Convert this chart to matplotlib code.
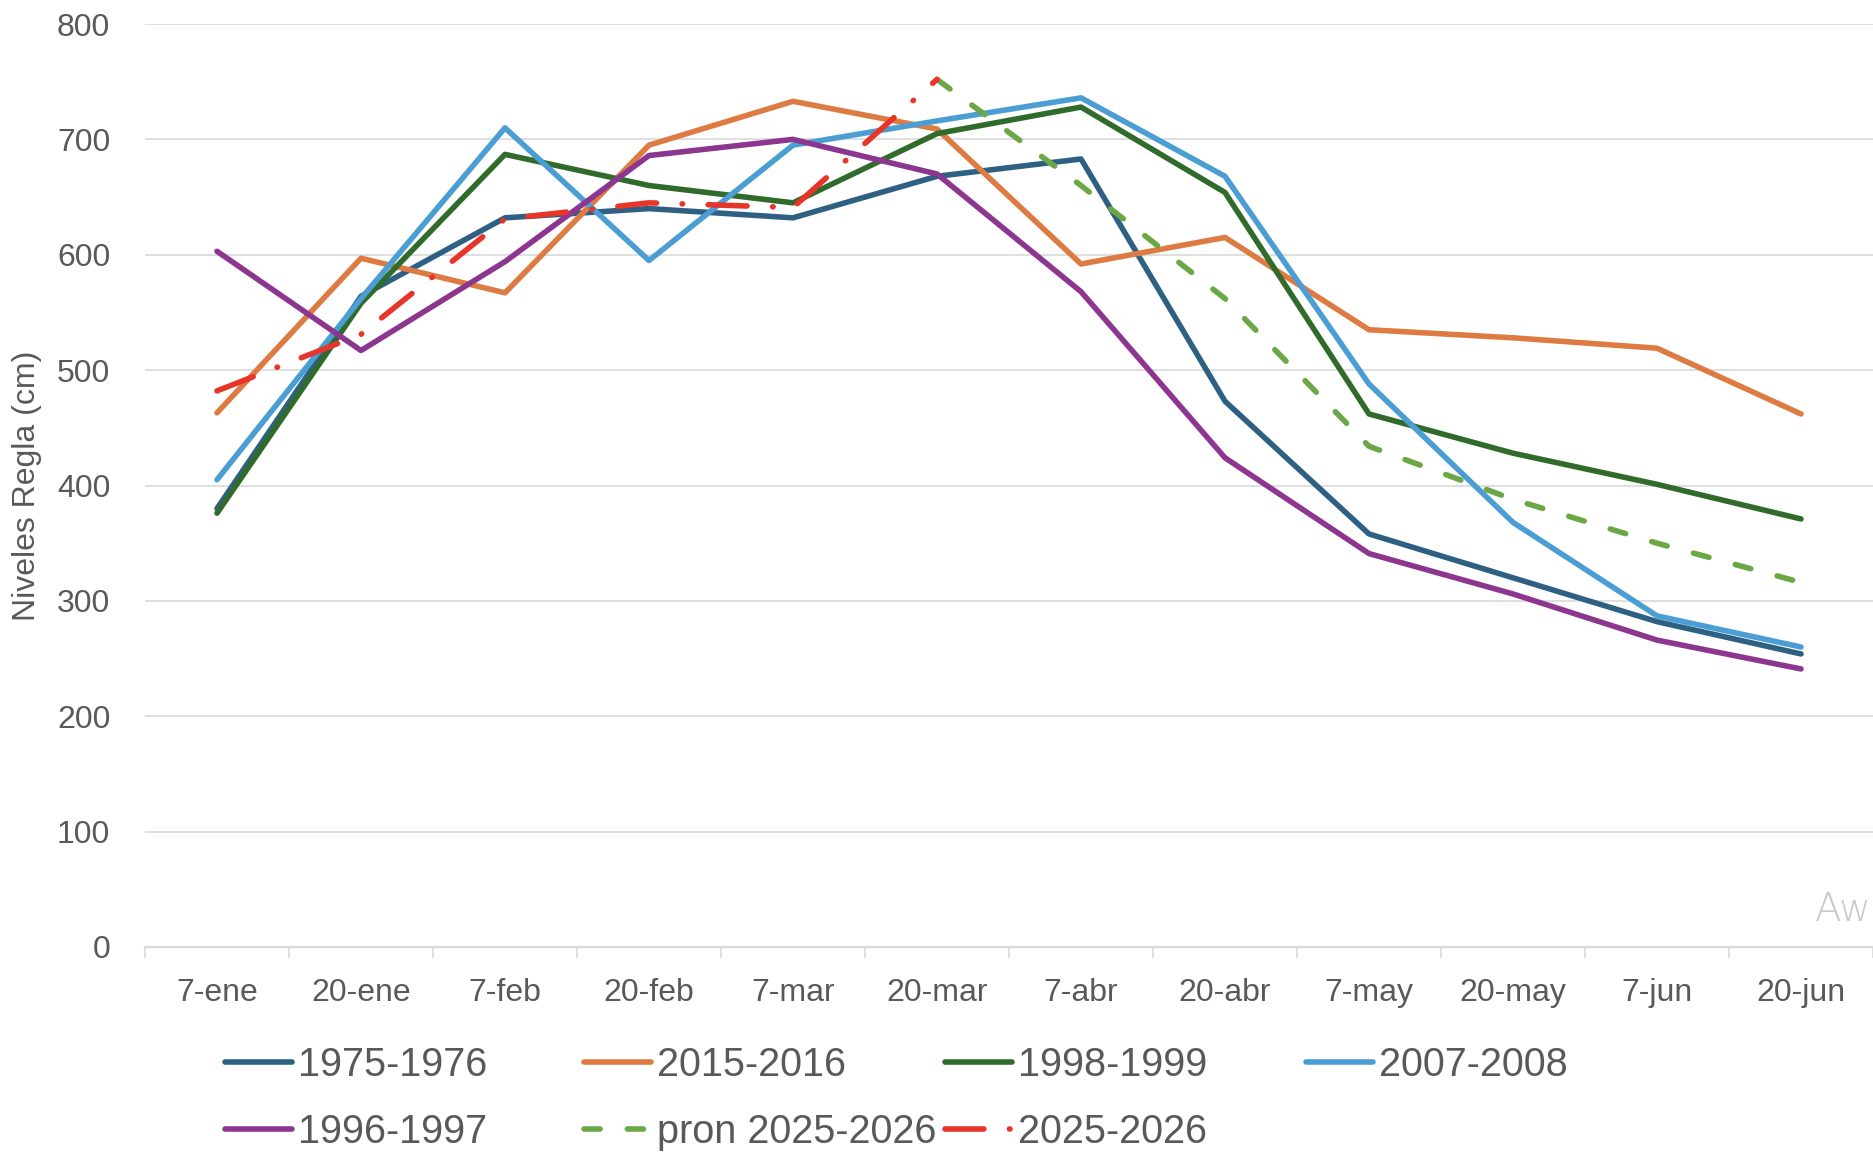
import numpy as np
import matplotlib.pyplot as plt
from matplotlib.lines import Line2D

nan = np.nan

# Category labels (dates)
fechas = ['7-ene', '20-ene', '7-feb', '20-feb', '7-mar', '20-mar',
          '7-abr', '20-abr', '7-may', '20-may', '7-jun', '20-jun']

# Series values (cm)
s1975 = [380, 564, 632, 640, 632, 668, 683, 473, 358, 320, 282, 254]
s2015 = [463, 597, 567, 695, 733, 709, 592, 615, 535, 528, 519, 462]
s1998 = [376, 558, 687, 660, 645, 705, 728, 654, 462, 428, 401, 371]
s2007 = [405, 562, 710, 595, 695, 716, 736, 668, 488, 368, 287, 260]
s1996 = [603, 517, 594, 686, 700, 670, 568, 424, 341, 306, 266, 241]
pron2025 = [nan, nan, nan, nan, nan, 752, 660, 562, 434, 388, 350, 316]
s2025 = [482, 531, 631, 645, 641, 752, nan, nan, nan, nan, nan, nan]

series_labels = ['1975-1976', '2015-2016', '1998-1999', '2007-2008',
                 '1996-1997', 'pron 2025-2026', '2025-2026']

text_color = '#595959'
grid_color = '#D9D9D9'
font = 'Liberation Sans'

fig = plt.figure(figsize=(18.73, 11.52), dpi=100)
ax = fig.add_axes([145 / 1873, 1 - 947 / 1152, 1 - 145 / 1873, (947 - 24) / 1152])

x = np.arange(len(fechas)) + 0.5
lw = 4.0
common = dict(lw=lw, solid_capstyle='round', solid_joinstyle='round',
              dash_capstyle='round', dash_joinstyle='round')

dash_pron = (0, (2.9, 4.9))
dash_2025 = (0, (7.0, 4.6, 0.1, 4.6))

styles = [
    ('#2E6083', '-'),
    ('#DD7B43', '-'),
    ('#316B2C', '-'),
    ('#4A9ED3', '-'),
    ('#8C368F', '-'),
    ('#6BA745', dash_pron),
    ('#E8352A', dash_2025),
]
data = [s1975, s2015, s1998, s2007, s1996, pron2025, s2025]

for vals, (col, ls) in zip(data, styles):
    ax.plot(x, vals, color=col, linestyle=ls, **common)

ax.set_xlim(0, 12)
ax.set_ylim(0, 800)
ax.set_yticks(range(0, 801, 100))
ax.yaxis.grid(True, color=grid_color, lw=1.2)
ax.set_axisbelow(True)

for side in ['top', 'right', 'left']:
    ax.spines[side].set_visible(False)
ax.spines['bottom'].set_color(grid_color)
ax.spines['bottom'].set_linewidth(1.6)

# boundaries as major ticks, labels on minor ticks at centers
ax.set_xticks(np.arange(0, 13))
ax.set_xticklabels([])
ax.set_xticks(x, minor=True)
ax.set_xticklabels(fechas, minor=True)
ax.tick_params(axis='x', which='major', length=8, width=1.2, color=grid_color)
ax.tick_params(axis='x', which='minor', length=0, pad=22, labelsize=23, labelcolor=text_color)
ax.tick_params(axis='y', length=0, pad=25, labelsize=23, labelcolor=text_color)

for lab in ax.get_xticklabels(minor=True) + ax.get_yticklabels():
    lab.set_family(font)

# y axis title
fig.text(27 / 1873, 1 - 486 / 1152, 'Niveles Regla (cm)', rotation=90,
         ha='center', va='center', fontsize=23, color=text_color, family=font)

# legend entries placed individually like the spreadsheet layout
col_x = [225, 584, 945, 1306]
row_y = [1065, 1132]
for i, (lab, (col, ls)) in enumerate(zip(series_labels, styles)):
    r, c = divmod(i, 4)
    h = Line2D([], [], color=col, lw=lw, linestyle=ls,
               solid_capstyle='round', dash_capstyle='round')
    fig.legend(handles=[h], labels=[lab], loc='center left',
               bbox_to_anchor=(col_x[c] / 1873, 1 - row_y[r] / 1152),
               frameon=False, borderpad=0, borderaxespad=0,
               handlelength=1.7, handletextpad=0.15,
               prop={'family': font, 'size': 28.5},
               labelcolor=text_color)

# faint signature in the corner
fig.text(0.999, 1 - 910 / 1152, 'Aw', color='#C8C8C8', fontsize=28,
         fontweight='light', va='center', ha='right', family='DejaVu Sans')

fig.savefig('out.png', dpi=100)
